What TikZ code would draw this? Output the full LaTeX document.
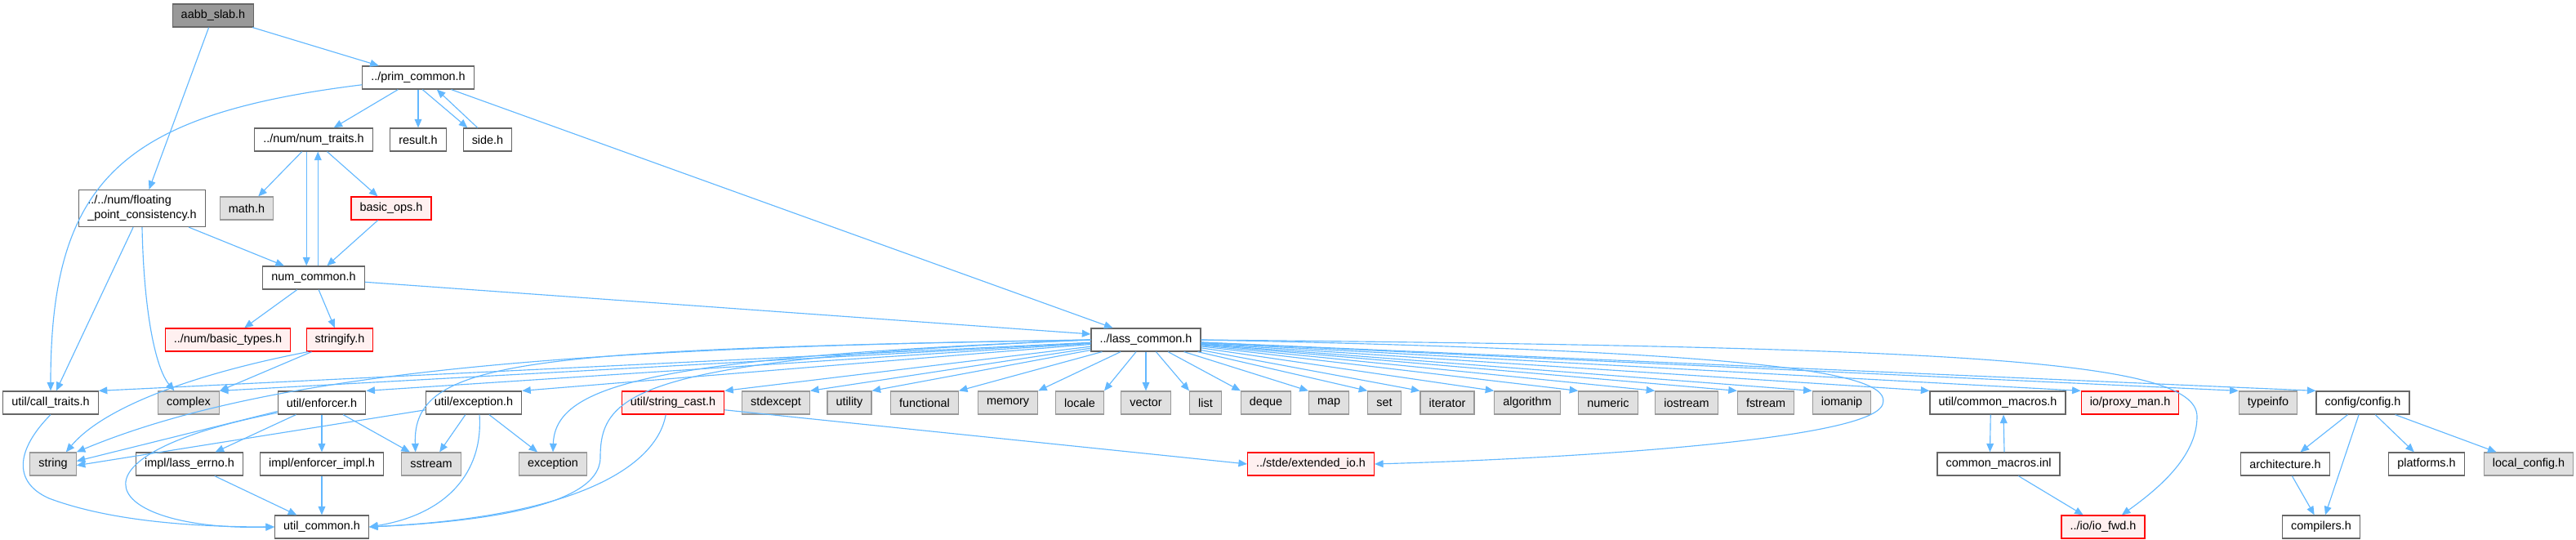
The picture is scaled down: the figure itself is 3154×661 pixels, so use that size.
\documentclass[tikz,border=0pt]{standalone}
\usepackage{fontspec}
\setmainfont{Liberation Sans}
\usetikzlibrary{arrows.meta}
\definecolor{edgeblue}{RGB}{99,184,255}
\definecolor{hdrborder}{RGB}{102,102,102}
\definecolor{sysborder}{RGB}{153,153,153}
\definecolor{sysfill}{RGB}{224,224,224}
\definecolor{missfill}{RGB}{255,240,240}
\definecolor{rootfill}{RGB}{153,153,153}
\tikzset{
	hdr/.style={draw=hdrborder, fill=white, line width=0.7pt, minimum height=0.56cm, inner xsep=6pt, inner ysep=0pt, font=\fontsize{8.2}{10}\selectfont},
	sys/.style={hdr, draw=sysborder, fill=sysfill},
	missing/.style={hdr, draw=red, fill=missfill},
	root/.style={hdr, fill=rootfill},
	dep/.style={draw=edgeblue, line width=0.65pt, -{Triangle[length=6pt,width=5pt]}}
}
\begin{document}
\begin{tikzpicture}[x=0.02cm, y=-0.02cm]
				\useasboundingbox (0,0) rectangle (3154,661);
				\node [root] (aabb) at (261,19){aabb\_slab.h};
				\node [hdr] (prim) at (512,95){../prim\_common.h};
				\node [hdr] (numtraits) at (384,171){../num/num\_traits.h};
				\node [hdr] (result) at (512,171){result.h};
				\node [hdr] (side) at (597,171){side.h};
				\node [hdr, align=left, minimum height=0.9cm] (floating) at (174,255){../../num/floating\\\_point\_consistency.h};
				\node [sys] (math) at (302,255){math.h};
				\node [missing] (basicops) at (479,255){basic\_ops.h};
				\node [hdr] (numcommon) at (384,340){num\_common.h};
				\node [missing] (basictypes) at (279,416){../num/basic\_types.h};
				\node [missing] (stringify) at (416,416){stringify.h};
				\node [hdr] (lass) at (1403,416){../lass\_common.h};
				\node [hdr] (calltraits) at (62,493){util/call\_traits.h};
				\node [sys] (complex) at (231,493){complex};
				\node [hdr] (enforcer) at (394,493){util/enforcer.h};
				\node [hdr] (exceptionh) at (580,493){util/exception.h};
				\node [missing] (stringcast) at (824,493){util/string\_cast.h};
				\node [sys] (stdexcept) at (950,493){stdexcept};
				\node [sys] (utility) at (1040,493){utility};
				\node [sys] (functional) at (1132,493){functional};
				\node [sys] (memory) at (1234,493){memory};
				\node [sys] (locale) at (1322,493){locale};
				\node [sys] (vector) at (1403,493){vector};
				\node [sys] (list) at (1476,493){list};
				\node [sys] (deque) at (1550,493){deque};
				\node [sys] (map) at (1627,493){map};
				\node [sys] (set) at (1695,493){set};
				\node [sys] (iterator) at (1772,493){iterator};
				\node [sys] (algorithm) at (1870,493){algorithm};
				\node [sys] (numeric) at (1969,493){numeric};
				\node [sys] (iostream) at (2065,493){iostream};
				\node [sys] (fstream) at (2162,493){fstream};
				\node [sys] (iomanip) at (2255,493){iomanip};
				\node [hdr] (commonmacros) at (2446,493){util/common\_macros.h};
				\node [missing] (proxyman) at (2608,493){io/proxy\_man.h};
				\node [sys] (typeinfo) at (2777,493){typeinfo};
				\node [hdr] (config) at (2893,493){config/config.h};
				\node [sys] (string) at (65,568){string};
				\node [hdr] (lasserrno) at (232,568){impl/lass\_errno.h};
				\node [hdr] (enforcerimpl) at (394,568){impl/enforcer\_impl.h};
				\node [sys] (sstream) at (528,568){sstream};
				\node [sys] (exception) at (677,568){exception};
				\node [missing] (extendedio) at (1605,568){../stde/extended\_io.h};
				\node [hdr] (macrosinl) at (2447,568){common\_macros.inl};
				\node [hdr] (architecture) at (2798,568){architecture.h};
				\node [hdr] (platforms) at (2971,568){platforms.h};
				\node [sys] (localconfig) at (3096,568){local\_config.h};
				\node [hdr] (utilcommon) at (394,645){util\_common.h};
				\node [missing] (iofwd) at (2575,645){../io/io\_fwd.h};
				\node [hdr] (compilers) at (2842,645){compilers.h};

				\draw [dep] (aabb) -- (prim);
				\draw [dep] (aabb) -- (floating);
				\draw [dep] ([yshift=-5pt]prim.west) .. controls (150,140) and (62,220) .. (calltraits.north);
				\draw [dep] (prim) -- (numtraits);
				\draw [dep] (prim) -- (result);
				\draw [dep] ([xshift=3pt]prim.south) -- ([xshift=-14pt]side.north);
				\draw [dep] ([xshift=-7pt]side.north) -- ([xshift=13pt]prim.south);
				\draw [dep] (prim) -- (lass);
				\draw [dep] (numtraits) -- (math);
				\draw [dep] ([xshift=-5pt]numtraits.south) -- ([xshift=-5pt]numcommon.north);
				\draw [dep] ([xshift=3pt]numcommon.north) -- ([xshift=3pt]numtraits.south);
				\draw [dep] (numtraits) -- (basicops);
				\draw [dep] (basicops) -- (numcommon);
				\draw [dep] (floating) -- (numcommon);
				\draw [dep] (floating) -- (calltraits);
				\draw [dep] (floating.south) .. controls (176,380) and (190,450) .. ([xshift=-10pt]complex.north);
				\draw [dep] (numcommon) -- (basictypes);
				\draw [dep] (numcommon) -- (stringify);
				\draw [dep] ([yshift=-3pt]numcommon.east) -- ([yshift=4pt]lass.west);
				\draw [dep] ([xshift=-22pt]stringify.south) .. controls (250,455) and (130,495) .. ([xshift=9pt]string.north);
				\draw [dep] (stringify) -- (complex.north east);

				\draw [dep] (lass) -- (calltraits.north east);
				\draw [dep] (lass) -- (complex.north east);
				\draw [dep] (lass) -- (enforcer.north east);
				\draw [dep] (lass) -- (exceptionh.north east);
				\draw [dep] (lass.west) .. controls (700,425) and (330,455) .. (string.north east);
				\draw [dep] (lass.west) .. controls (640,428) and (505,440) .. ([xshift=-11pt]sstream.north);
				\draw [dep] (lass.west) .. controls (800,438) and (680,470) .. (exception.north);
				\draw [dep] (lass.west) .. controls (780,440) and (735,480) .. (735,560) .. controls (735,625) and (560,640) .. (utilcommon.east);
				\draw [dep] (lass) -- (stringcast.north east);
				\draw [dep] (lass) -- (stdexcept.north east);
				\draw [dep] (lass) -- (utility.north east);
				\draw [dep] (lass) -- (functional.north east);
				\draw [dep] (lass) -- (memory.north east);
				\draw [dep] (lass) -- (locale.north east);
				\draw [dep] (lass) -- (vector);
				\draw [dep] (lass) -- (list.north west);
				\draw [dep] (lass) -- (deque.north west);
				\draw [dep] (lass) -- (map.north west);
				\draw [dep] (lass) -- (set.north west);
				\draw [dep] (lass) -- (iterator.north west);
				\draw [dep] (lass) -- (algorithm.north west);
				\draw [dep] (lass) -- (numeric.north west);
				\draw [dep] (lass) -- (iostream.north west);
				\draw [dep] (lass) -- (fstream.north west);
				\draw [dep] (lass) -- (iomanip.north west);
				\draw [dep] (lass) -- (commonmacros.north west);
				\draw [dep] (lass) -- (proxyman.north west);
				\draw [dep] (lass) -- (typeinfo.north west);
				\draw [dep] (lass) -- (config.north west);
				\draw [dep] (lass.east) .. controls (2150,430) and (2320,455) .. (2305,495) .. controls (2290,540) and (1900,562) .. (extendedio.east);
				\draw [dep] (lass.east) .. controls (2400,425) and (2690,440) .. (2690,510) .. controls (2690,560) and (2640,600) .. ([xshift=13pt]iofwd.north);

				\draw [dep] (calltraits.south) .. controls (20,550) and (15,590) .. (60,610) .. controls (140,640) and (250,645) .. (utilcommon.west);
				\draw [dep] ([yshift=-6pt]enforcer.west) -- ([yshift=2pt]string.east);
				\draw [dep] ([yshift=-7pt]enforcer.west) .. controls (60,560) and (130,650) .. (utilcommon.west);
				\draw [dep] (enforcer) -- (lasserrno);
				\draw [dep] (enforcer) -- (enforcerimpl);
				\draw [dep] (enforcer) -- (sstream);
				\draw [dep] ([yshift=-5pt]exceptionh.west) -- ([yshift=-1pt]string.east);
				\draw [dep] (exceptionh) -- (sstream);
				\draw [dep] (exceptionh) -- (exception);
				\draw [dep] ([xshift=4pt]exceptionh.south) .. controls (592,580) and (545,630) .. (utilcommon.east);
				\draw [dep] ([yshift=-5pt]stringcast.east) -- (extendedio.west);
				\draw [dep] ([xshift=-5pt]stringcast.south) .. controls (805,565) and (720,632) .. (utilcommon.east);
				\draw [dep] (lasserrno) -- (utilcommon);
				\draw [dep] (enforcerimpl) -- (utilcommon);
				\draw [dep] ([xshift=-5pt]commonmacros.south) -- ([xshift=-6pt]macrosinl.north);
				\draw [dep] ([xshift=4pt]macrosinl.north) -- ([xshift=4pt]commonmacros.south);
				\draw [dep] (macrosinl) -- (iofwd);
				\draw [dep] (config) -- (architecture);
				\draw [dep] (config) -- (compilers);
				\draw [dep] (config) -- (platforms);
				\draw [dep] (config) -- (localconfig);
				\draw [dep] (architecture) -- (compilers);
			\end{tikzpicture}
\end{document}
